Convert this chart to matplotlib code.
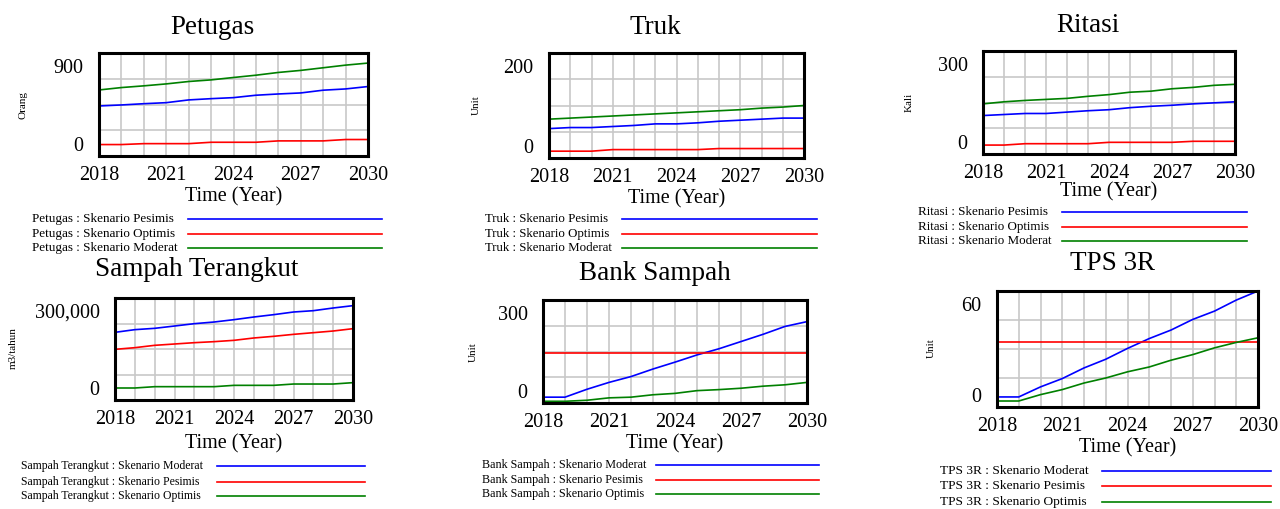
# grafik skenario sampah (gaya Vensim)

import matplotlib
matplotlib.use('Agg')
import matplotlib.pyplot as plt
import matplotlib.transforms as mtransforms
from matplotlib.lines import Line2D

plt.rcParams['font.family'] = ['Liberation Serif', 'DejaVu Serif']

W, H = 1280, 509

tahun = [2018, 2019, 2020, 2021, 2022, 2023, 2024, 2025, 2026, 2027, 2028, 2029, 2030]
label_tahun = [2018, 2021, 2024, 2027, 2030]

petugas_pesimis = [437, 446, 457, 466, 490, 501, 510, 531, 542, 551, 575, 586, 607]
petugas_optimis = [100, 100, 108, 108, 108, 120, 120, 120, 132, 132, 132, 144, 144]
petugas_moderat = [577, 598, 613, 630, 651, 665, 686, 706, 730, 748, 771, 794, 812]

truk_pesimis = [56, 58, 58, 60, 62, 65, 65, 67, 70, 72, 74, 76, 76]
truk_optimis = [13, 13, 13, 16, 16, 16, 16, 16, 18, 18, 18, 18, 18]
truk_moderat = [74, 76, 78, 80, 82, 84, 86, 88, 90, 92, 95, 97, 100]

ritasi_pesimis = [112, 115, 118, 118, 122, 126, 129, 135, 139, 142, 146, 149, 152]
ritasi_optimis = [26, 26, 30, 30, 30, 30, 34, 34, 34, 34, 37, 37, 37]
ritasi_moderat = [146, 152, 156, 159, 162, 168, 173, 180, 183, 190, 194, 200, 203]

sampah_moderat = [199000, 206900, 210800, 217600, 224500, 229400, 236300,
                  244100, 251000, 258800, 262700, 270600, 277500]
sampah_pesimis = [149000, 153900, 160800, 164700, 168600, 171600, 175500,
                  182400, 187300, 193100, 198000, 202900, 209800]
sampah_optimis = [35300, 35300, 39200, 39200, 39200, 39200, 43100,
                  43100, 43100, 47000, 47000, 47000, 51000]

bank_moderat = [17, 17, 40, 60, 77, 99, 119, 140, 158, 179, 200, 223, 237]
bank_pesimis = [147, 147, 147, 147, 147, 147, 147, 147, 147, 147, 147, 147, 147]
bank_optimis = [5, 5, 8, 15, 17, 24, 28, 36, 39, 43, 49, 53, 60]

tps_moderat = [5.2, 5.2, 10.4, 14.7, 20.2, 24.7, 30.3, 35.4, 39.8, 45.3, 49.6, 55.3, 60]
tps_pesimis = [33.4, 33.4, 33.4, 33.4, 33.4, 33.4, 33.4, 33.4, 33.4, 33.4, 33.4, 33.4, 33.4]
tps_optimis = [3.1, 3.1, 6.4, 9.0, 12.4, 15.0, 18.2, 20.7, 24.2, 27.1, 30.6, 33.4, 35.8]

BIRU = '#0000ff'
MERAH = '#ff0000'
HIJAU = '#008000'

# (judul, satuan, ymax, label ymax, seri, posisi dalam piksel)
panel = [
    dict(judul='Petugas', satuan='Orang', ymax=900, ylab='900',
         seri=[('Petugas : Skenario Pesimis', petugas_pesimis, BIRU),
               ('Petugas : Skenario Optimis', petugas_optimis, MERAH),
               ('Petugas : Skenario Moderat', petugas_moderat, HIJAU)],
         ax=(99, 53, 368, 156), judul_xy=(212, 27), satuan_xy=(23, 105),
         waktu_y=197, leg_x=32, leg_garis=(188, 382), leg_y=(219, 234, 248), leg_fs=9.45),
    dict(judul='Truk', satuan='Unit', ymax=200, ylab='200',
         seri=[('Truk : Skenario Pesimis', truk_pesimis, BIRU),
               ('Truk : Skenario Optimis', truk_optimis, MERAH),
               ('Truk : Skenario Moderat', truk_moderat, HIJAU)],
         ax=(549, 53, 804, 158), judul_xy=(655, 27), satuan_xy=(476, 105),
         waktu_y=199, leg_x=485, leg_garis=(622, 817), leg_y=(219, 234, 248), leg_fs=9.3),
    dict(judul='Ritasi', satuan='Kali', ymax=300, ylab='300',
         seri=[('Ritasi : Skenario Pesimis', ritasi_pesimis, BIRU),
               ('Ritasi : Skenario Optimis', ritasi_optimis, MERAH),
               ('Ritasi : Skenario Moderat', ritasi_moderat, HIJAU)],
         ax=(983, 51, 1235, 154), judul_xy=(1088, 25), satuan_xy=(909, 102),
         waktu_y=192, leg_x=918, leg_garis=(1062, 1247), leg_y=(212, 227, 241), leg_fs=9.4),
    dict(judul='Sampah Terangkut', satuan='m3/tahun', ymax=300000, ylab='300,000',
         seri=[('Sampah Terangkut : Skenario Moderat', sampah_moderat, BIRU),
               ('Sampah Terangkut : Skenario Pesimis', sampah_pesimis, MERAH),
               ('Sampah Terangkut : Skenario Optimis', sampah_optimis, HIJAU)],
         ax=(115, 298, 353, 400), judul_xy=(197, 270), satuan_xy=(13, 348),
         waktu_y=444, leg_x=21, leg_garis=(217, 365), leg_y=(466, 482, 496), leg_fs=8.5),
    dict(judul='Bank Sampah', satuan='Unit', ymax=300, ylab='300',
         seri=[('Bank Sampah : Skenario Moderat', bank_moderat, BIRU),
               ('Bank Sampah : Skenario Pesimis', bank_pesimis, MERAH),
               ('Bank Sampah : Skenario Optimis', bank_optimis, HIJAU)],
         ax=(543, 300, 807, 403), judul_xy=(655, 273), satuan_xy=(473, 352),
         waktu_y=444, leg_x=482, leg_garis=(656, 819), leg_y=(465, 480, 494), leg_fs=8.7),
    dict(judul='TPS 3R', satuan='Unit', ymax=60, ylab='60',
         seri=[('TPS 3R : Skenario Moderat', tps_moderat, BIRU),
               ('TPS 3R : Skenario Pesimis', tps_pesimis, MERAH),
               ('TPS 3R : Skenario Optimis', tps_optimis, HIJAU)],
         ax=(997, 291, 1258, 407), judul_xy=(1112, 263), satuan_xy=(931, 348),
         waktu_y=448, leg_x=940, leg_garis=(1102, 1271), leg_y=(471, 486, 502), leg_fs=9.6),
]


def fx(x):
    return x / W


def fy(y):
    return 1 - y / H


fig = plt.figure(figsize=(W / 100, H / 100), dpi=100)

for p in panel:
    x0, y0, x1, y1 = p['ax']
    ax = fig.add_axes([fx(x0), fy(y1), (x1 - x0) / W, (y1 - y0) / H])

    for label, nilai, warna in p['seri']:
        ax.plot(tahun, nilai, color=warna, lw=1.2, zorder=3)

    ax.set_xlim(2018, 2030)
    ax.set_ylim(0, p['ymax'])

    # grid tahunan dan 4 bagian vertikal
    for t in tahun[1:-1]:
        ax.axvline(t, color='#c8c8c8', lw=1.2, zorder=1)
    for k in (0.25, 0.5, 0.75):
        ax.axhline(p['ymax'] * k, color='#c8c8c8', lw=1.2, zorder=1)

    ax.set_xticks(label_tahun)
    ax.set_xticklabels([str(t) for t in label_tahun], fontsize=14.5)
    ax.set_yticks([0, p['ymax']])
    ax.set_yticklabels(['0', p['ylab']], fontsize=14.5)
    ax.tick_params(length=0, pad=11)
    ax.tick_params(axis='x', pad=7)

    # label y digeser ke dalam seperti Vensim
    lbl = ax.get_yticklabels()
    lbl[0].set_transform(lbl[0].get_transform() +
                         mtransforms.ScaledTranslation(0, 12 / 100, fig.dpi_scale_trans))
    lbl[1].set_transform(lbl[1].get_transform() +
                         mtransforms.ScaledTranslation(0, -13 / 100, fig.dpi_scale_trans))

    for s in ax.spines.values():
        s.set_linewidth(2.2)
        s.set_zorder(4)

    fig.text(fx(p['judul_xy'][0]), fy(p['judul_xy'][1]), p['judul'],
             fontsize=19.5, ha='center', va='center')
    fig.text(fx(p['satuan_xy'][0]), fy(p['satuan_xy'][1]), p['satuan'],
             fontsize=8, rotation=90, ha='center', va='center')
    fig.text(fx((x0 + x1) / 2), fy(p['waktu_y']), 'Time (Year)',
             fontsize=14.5, ha='center', va='center')

    # legenda: teks dulu, lalu garis
    gx0, gx1 = p['leg_garis']
    for (label, nilai, warna), ly in zip(p['seri'], p['leg_y']):
        fig.text(fx(p['leg_x']), fy(ly), label, fontsize=p['leg_fs'], ha='left', va='center')
        fig.add_artist(Line2D([fx(gx0), fx(gx1)], [fy(ly), fy(ly)],
                              color=warna, lw=1.2, transform=fig.transFigure))

fig.savefig('out.png', dpi=100)
